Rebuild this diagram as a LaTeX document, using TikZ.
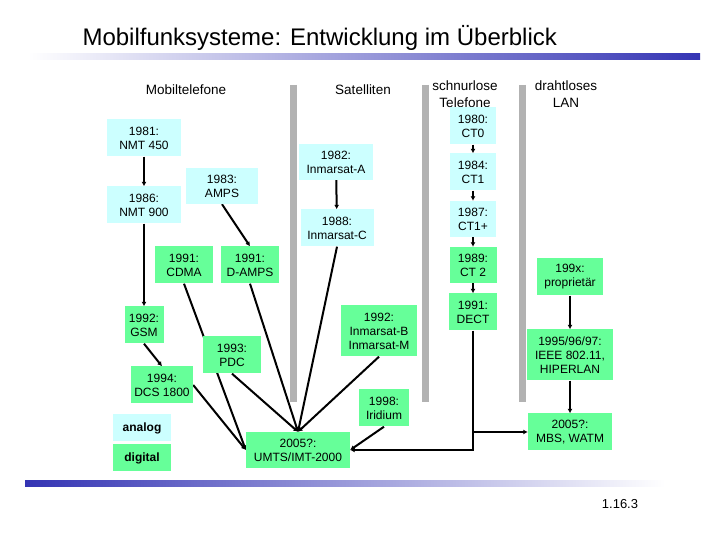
\documentclass[tikz,border=0pt]{standalone}
\usepackage{fontspec}
\setmainfont{Liberation Sans}
\usetikzlibrary{arrows.meta, backgrounds}
\definecolor{ink}{HTML}{000000}
\definecolor{analogC}{HTML}{CCFFFF}
\definecolor{digitalC}{HTML}{66FF99}
\definecolor{sepgray}{HTML}{B2B2B2}
\definecolor{barblue}{HTML}{3434B4}
\tikzset{
  title/.style={font=\fontsize{24}{26}\selectfont, text=ink},
  colhead/.style={font=\fontsize{13.5}{16.5}\selectfont, text=ink, align=center},
  sysbox/.style={font=\fontsize{12}{14}\selectfont, text=ink, align=center, inner sep=0pt},
  analogbox/.style={sysbox, fill=analogC},
  digitalbox/.style={sysbox, fill=digitalC},
  legendbox/.style={sysbox, font=\bfseries\fontsize{12}{14}\selectfont, minimum width=58pt, minimum height=27pt},
  sepline/.style={line width=7pt, draw=sepgray},
  conn/.style={line width=2pt, draw=ink, -{Latex[length=4.5pt, width=5pt]}}
}

\begin{document}
\begin{tikzpicture}[x=1pt,y=1pt]
\useasboundingbox (0,0) rectangle (720,540);

\node[title, anchor=base west] (ttl) at (79,494) {Mobilfunksysteme: Entwicklung im Überblick};
\shade[left color=white, right color=barblue] (28,480) rectangle (700,486);
\shade[left color=barblue, right color=white] (25,53) rectangle (665,59);
\node[font=\fontsize{13}{15}\selectfont, anchor=base] (pagenr) at (620,31) {1.16.3};

% column separators
\draw[sepline] (293,455) -- (293,138);
\draw[sepline] (425,455) -- (425,138);
\draw[sepline] (522,455) -- (522,138);

\node[colhead, anchor=base] (hmobil) at (186,445) {Mobiltelefone};
\node[colhead, anchor=base] (hsat) at (363,445) {Satelliten};
\node[colhead] (hcordless) at (465,446) {schnurlose\\Telefone};
\node[colhead] (hwlan) at (566,446) {drahtloses\\LAN};

% Mobiltelefone
\node[analogbox, minimum width=74pt, minimum height=37pt] (nmt450) at (144,402) {1981:\\NMT 450};
\node[analogbox, minimum width=74pt, minimum height=37pt] (nmt900) at (144,335) {1986:\\NMT 900};
\node[analogbox, minimum width=72pt, minimum height=36pt] (amps) at (222,354) {1983:\\AMPS};
\node[digitalbox, minimum width=58pt, minimum height=37pt] (cdma) at (184,275) {1991:\\CDMA};
\node[digitalbox, minimum width=58pt, minimum height=37pt] (damps) at (250,275) {1991:\\D-AMPS};
\node[digitalbox, minimum width=39pt, minimum height=37pt] (gsm) at (144,215) {1992:\\GSM};
\node[digitalbox, minimum width=58pt, minimum height=37pt] (pdc) at (232,185) {1993:\\PDC};
\node[digitalbox, minimum width=62pt, minimum height=37pt] (dcs) at (162,155) {1994:\\DCS 1800};
\node[digitalbox, minimum width=104pt, minimum height=36pt] (umts) at (298,90) {2005?:\\UMTS/IMT-2000};

% legend
\node[legendbox, fill=analogC] (leganalog) at (142,112) {analog};
\node[legendbox, fill=digitalC] (legdigital) at (142,82) {digital};

% Satelliten
\node[analogbox, minimum width=74pt, minimum height=36pt] (inmA) at (336,378) {1982:\\Inmarsat-A};
\node[analogbox, minimum width=73pt, minimum height=37pt] (inmC) at (337,312) {1988:\\Inmarsat-C};
\node[digitalbox, minimum width=76pt, minimum height=51pt] (inmBM) at (379,209) {1992:\\Inmarsat-B\\Inmarsat-M};
\node[digitalbox, minimum width=50pt, minimum height=37pt] (iridium) at (384,132) {1998:\\Iridium};

% schnurlose Telefone
\node[analogbox, minimum width=46pt, minimum height=37pt] (ct0) at (473,414) {1980:\\CT0};
\node[analogbox, minimum width=46pt, minimum height=37pt] (ct1) at (473,368) {1984:\\CT1};
\node[analogbox, minimum width=46pt, minimum height=36pt] (ct1p) at (473,321) {1987:\\CT1+};
\node[digitalbox, minimum width=47pt, minimum height=36pt] (ct2) at (473,275) {1989:\\CT 2};
\node[digitalbox, minimum width=48pt, minimum height=37pt] (dect) at (473,228) {1991:\\DECT};

% drahtloses LAN
\node[digitalbox, minimum width=66pt, minimum height=37pt] (prop) at (570,263) {199x:\\proprietär};
\node[digitalbox, minimum width=86pt, minimum height=51pt] (ieee) at (570,185) {1995/96/97:\\IEEE 802.11,\\HIPERLAN};
\node[digitalbox, minimum width=84pt, minimum height=37pt] (mbs) at (570,108) {2005?:\\MBS, WATM};

% connectors behind the boxes
\begin{pgfonlayer}{background}
\fill[white] (0,0) rectangle (720,540);
\draw[conn] (nmt450) -- (nmt900);
\draw[conn] (nmt900) -- (gsm);
\draw[conn] (gsm.south) -- (dcs.north);
\draw[conn] (amps.south) -- (damps.north);
\draw[conn] (cdma.south) -- (umts.west);
\draw[conn] (dcs.east) -- (umts.west);
\draw[conn] (pdc.south) -- (umts.north);
\draw[conn] (damps.south) -- (umts.north);
\draw[conn] (inmC.south) -- (umts.north);
\draw[conn] (inmBM.south) -- (umts.north);
\draw[conn] (iridium.south) -- (umts.east);
\draw[conn] (inmA) -- (inmC);
\draw[conn] (ct0) -- (ct1);
\draw[conn] (ct1) -- (ct1p);
\draw[conn] (ct1p) -- (ct2);
\draw[conn] (ct2) -- (dect);
\draw[conn] (dect.south) |- (umts.east);
\draw[conn] (dect.south |- mbs.west) -- (mbs.west);
\draw[conn] (prop) -- (ieee);
\draw[conn] (ieee) -- (mbs);
\end{pgfonlayer}

\end{tikzpicture}
\end{document}
